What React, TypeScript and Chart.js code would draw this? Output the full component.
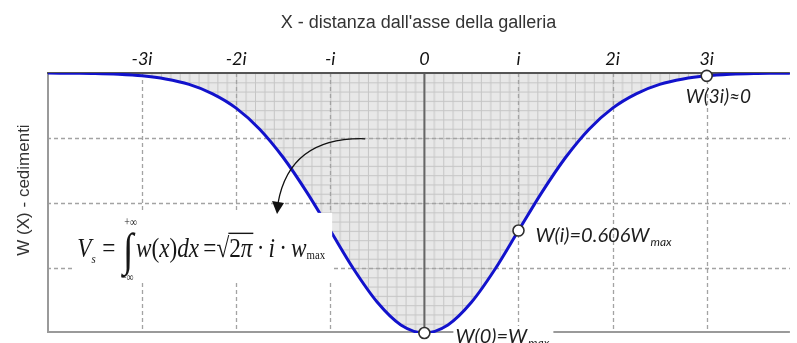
import React, { useEffect, useRef } from 'react';
import { Chart, registerables } from 'chart.js';

Chart.register(...registerables);

// Settlement trough: distance from the tunnel axis (in units of i) and settlement W(x) (fraction of Wmax, downward)
const X_POS = [-4, -3.75, -3.5, -3.25, -3, -2.75, -2.5, -2.25, -2, -1.75, -1.5, -1.25, -1, -0.75, -0.5, -0.25, 0,
  0.25, 0.5, 0.75, 1, 1.25, 1.5, 1.75, 2, 2.25, 2.5, 2.75, 3, 3.25, 3.5, 3.75, 4];
const W_VAL = [0, -0.001, -0.002, -0.005, -0.011, -0.023, -0.044, -0.08, -0.135, -0.216, -0.325, -0.458, -0.606,
  -0.755, -0.882, -0.969, -1, -0.969, -0.882, -0.755, -0.606, -0.458, -0.325, -0.216, -0.135, -0.08, -0.044,
  -0.023, -0.011, -0.005, -0.002, -0.001, 0];

// Marked points: W(0)=Wmax, W(i)=0.606Wmax, W(3i)≈0
const MARK_X = [0, 1, 3];
const MARK_W = [-1, -0.606, -0.011];

// Shaded settlement volume between -3i and 3i
const SHADE_FROM = -3;
const SHADE_TO = 3;

const X_TICKS = [-3, -2, -1, 0, 1, 2, 3];
const X_LABELS = ['-3i', '-2i', '-i', '0', 'i', '2i', '3i'];
const X_GRID = [-3, -2, -1, 1, 2, 3];
const Y_GRID = [-0.25, -0.5, -0.75];

const X_TITLE = "X - distanza dall'asse della galleria";
const Y_TITLE = 'W (X) - cedimenti';

const SANS = '"Liberation Sans", Arial, sans-serif';
const LABEL = 'Lato, "Open Sans", sans-serif';
const SERIF = '"Liberation Serif", "DejaVu Serif", serif';

function makeTile(): HTMLCanvasElement {
  const c = document.createElement('canvas');
  c.width = 95;
  c.height = 65;
  const g = c.getContext('2d')!;
  g.fillStyle = '#e8e8e8';
  g.fillRect(0, 0, 95, 65);
  g.strokeStyle = '#c6c6c6';
  g.lineWidth = 1;
  for (let k = 0; k < 10; k++) {
    const px = k * 9.5 + 0.5;
    g.beginPath();
    g.moveTo(px, 0);
    g.lineTo(px, 65);
    g.stroke();
  }
  for (let k = 0; k < 7; k++) {
    const py = (k * 65) / 7 + 0.5;
    g.beginPath();
    g.moveTo(0, py);
    g.lineTo(95, py);
    g.stroke();
  }
  return c;
}

// Label with a subscript, e.g. W(i)=0.606W_max
function subLabel(ctx: CanvasRenderingContext2D, main: string, sub: string, x: number, y: number, size: number) {
  ctx.font = `italic ${size}px ${LABEL}`;
  ctx.fillText(main, x, y);
  const w = ctx.measureText(main).width;
  if (sub) {
    ctx.font = `italic ${Math.round(size * 0.62)}px ${LABEL}`;
    ctx.fillText(sub, x + w + 1, y + 4);
    return w + 1 + ctx.measureText(sub).width;
  }
  return w;
}

// Vs = ∫ w(x)dx = √(2π) · i · wmax, laid out then squeezed to the given width
function drawFormula(ctx: CanvasRenderingContext2D, left: number, right: number, base: number) {
  const run = (draw: boolean) => {
    let cx = 0;
    const put = (t: string, font: string, dy = 0) => {
      ctx.font = font;
      if (draw) ctx.fillText(t, cx, dy);
      const w = ctx.measureText(t).width;
      cx += w;
      return w;
    };
    const it = `italic 28px ${SERIF}`;
    const up = `28px ${SERIF}`;
    put('V', it);
    put('s', `italic 13px ${SERIF}`, 6);
    cx += 8;
    put('=', up);
    cx += 9;
    const ix = cx;
    const iw = put('\u222B', `46px ${SERIF}`, 8);
    ctx.font = `12px ${SERIF}`;
    if (draw) {
      ctx.textAlign = 'center';
      ctx.fillText('+\u221E', ix + iw / 2 + 3, -31);
      ctx.fillText('\u2212\u221E', ix + iw / 2 - 1, 24);
      ctx.textAlign = 'left';
    }
    cx += 3;
    put('w', it);
    put('(', up);
    put('x', it);
    put(')', up);
    put('d', it);
    put('x', it);
    cx += 5;
    put('=', up);
    put('\u221A', up);
    const ox = cx;
    put('2', up);
    put('\u03C0', it);
    if (draw) {
      ctx.lineWidth = 1.4;
      ctx.beginPath();
      ctx.moveTo(ox - 1, -24);
      ctx.lineTo(cx + 1, -24);
      ctx.stroke();
    }
    cx += 5;
    put('\u00B7', up);
    cx += 5;
    put('i', it);
    cx += 5;
    put('\u00B7', up);
    cx += 5;
    put('w', it);
    put('max', `13px ${SERIF}`, 2);
    return cx;
  };
  ctx.save();
  ctx.textAlign = 'left';
  ctx.textBaseline = 'alphabetic';
  const natural = run(false);
  ctx.translate(left, base);
  ctx.scale((right - left) / natural, 1);
  run(true);
  ctx.restore();
}

export default function App() {
  const ref = useRef<HTMLCanvasElement | null>(null);

  useEffect(() => {
    document.body.style.margin = '0';
    const canvas = ref.current!;
    const ctx0 = canvas.getContext('2d')!;
    const pattern = ctx0.createPattern(makeTile(), 'repeat')!;

    const shadeX: number[] = [];
    const shadeW: number[] = [];
    X_POS.forEach((xv, k) => {
      if (xv >= SHADE_FROM && xv <= SHADE_TO) {
        shadeX.push(xv);
        shadeW.push(W_VAL[k]);
      }
    });

    const overlay = {
      id: 'troughOverlay',
      beforeDraw(chart: any) {
        const { x, y } = chart.scales;
        const x0 = x.getPixelForValue(0);
        const y0 = y.getPixelForValue(0);
        const ux = x.getPixelForValue(1) - x0;
        const uy = y.getPixelForValue(-0.25) - y0;
        pattern.setTransform(new DOMMatrix().translate(x0, y0).scale(ux / 95, uy / 65));
      },
      beforeDatasetsDraw(chart: any) {
        const { ctx, chartArea: a, scales } = chart;
        const { x, y } = scales;
        ctx.save();
        ctx.strokeStyle = '#a3a3a3';
        ctx.lineWidth = 1.3;
        ctx.setLineDash([4, 3]);
        X_GRID.forEach((v) => {
          const px = Math.round(x.getPixelForValue(v)) + 0.5;
          ctx.beginPath();
          ctx.moveTo(px, a.top);
          ctx.lineTo(px, a.bottom);
          ctx.stroke();
        });
        Y_GRID.forEach((v) => {
          const py = Math.round(y.getPixelForValue(v)) + 0.5;
          ctx.beginPath();
          ctx.moveTo(a.left, py);
          ctx.lineTo(a.right, py);
          ctx.stroke();
        });
        ctx.setLineDash([]);
        // plot frame: left and bottom
        ctx.strokeStyle = '#9a9a9a';
        ctx.lineWidth = 2;
        ctx.beginPath();
        ctx.moveTo(a.left + 1, a.top);
        ctx.lineTo(a.left + 1, a.bottom - 1);
        ctx.lineTo(a.right, a.bottom - 1);
        ctx.stroke();
        // tunnel axis
        ctx.strokeStyle = '#666';
        const zx = x.getPixelForValue(0);
        ctx.beginPath();
        ctx.moveTo(zx, a.top);
        ctx.lineTo(zx, a.bottom);
        ctx.stroke();
        // ground surface
        ctx.strokeStyle = '#555';
        ctx.beginPath();
        ctx.moveTo(a.left, a.top);
        ctx.lineTo(a.right, a.top);
        ctx.stroke();
        ctx.restore();
      },
      afterDatasetsDraw(chart: any) {
        const { ctx, scales } = chart;
        const { x, y } = scales;
        ctx.save();

        // formula panel
        const bl = x.getPixelForValue(-3.72);
        const br = x.getPixelForValue(-0.98);
        const bt = y.getPixelForValue(-0.538);
        const bb = y.getPixelForValue(-0.805);
        ctx.fillStyle = '#fff';
        ctx.fillRect(bl, bt, br - bl, bb - bt);
        ctx.fillStyle = '#161616';
        ctx.strokeStyle = '#161616';
        drawFormula(ctx, bl + 3, br - 7, y.getPixelForValue(-0.709));

        // curved arrow pointing to the formula
        const sx = x.getPixelForValue(-0.63);
        const sy = y.getPixelForValue(-0.253);
        const ex = x.getPixelForValue(-1.555);
        const ey = y.getPixelForValue(-0.5);
        ctx.strokeStyle = '#111';
        ctx.lineWidth = 1.3;
        ctx.beginPath();
        ctx.moveTo(sx, sy);
        ctx.quadraticCurveTo(ex + 12, sy - 2, ex, ey);
        ctx.stroke();
        ctx.fillStyle = '#111';
        ctx.beginPath();
        ctx.moveTo(ex - 6, ey - 2);
        ctx.lineTo(ex + 6, ey);
        ctx.lineTo(ex - 1, ey + 11);
        ctx.closePath();
        ctx.fill();

        // point labels
        ctx.textAlign = 'left';
        ctx.textBaseline = 'alphabetic';
        ctx.fillStyle = '#1e1e1e';
        subLabel(ctx, 'W(3i)\u22480', '', x.getPixelForValue(MARK_X[2]) - 21, y.getPixelForValue(MARK_W[2]) + 27, 19);
        subLabel(ctx, 'W(i)=0.606W', 'max', x.getPixelForValue(MARK_X[1]) + 17, y.getPixelForValue(MARK_W[1]) + 11, 20);
        const lx = x.getPixelForValue(MARK_X[0]) + 31;
        const ly = y.getPixelForValue(MARK_W[0]) + 10;
        ctx.fillStyle = '#fff';
        ctx.fillRect(lx - 2, ly - 17, 100, 20);
        ctx.fillStyle = '#1e1e1e';
        subLabel(ctx, 'W(0)=W', 'max', lx, ly, 20);

        // vertical axis title
        ctx.translate(24, 190);
        ctx.rotate(-Math.PI / 2);
        ctx.textAlign = 'center';
        ctx.textBaseline = 'middle';
        ctx.fillStyle = '#333';
        ctx.font = `17px ${SANS}`;
        ctx.fillText(Y_TITLE, 0, 0);
        ctx.restore();
      },
    };

    const chart = new Chart(canvas, {
      type: 'line',
      data: {
        datasets: [
          {
            label: 'marks',
            data: MARK_X.map((v, k) => ({ x: v, y: MARK_W[k] })),
            showLine: false,
            pointRadius: 5.5,
            pointBackgroundColor: '#fff',
            pointBorderColor: '#2e2e2e',
            pointBorderWidth: 1.6,
            clip: false,
          },
          {
            label: 'W(x)',
            data: X_POS.map((v, k) => ({ x: v, y: W_VAL[k] })),
            borderColor: '#1212cc',
            borderWidth: 3,
            pointRadius: 0,
            cubicInterpolationMode: 'monotone',
            fill: false,
          },
          {
            label: 'Vs',
            data: shadeX.map((v, k) => ({ x: v, y: shadeW[k] })),
            borderColor: 'rgba(0,0,0,0)',
            borderWidth: 0,
            pointRadius: 0,
            cubicInterpolationMode: 'monotone',
            backgroundColor: pattern as any,
            fill: 'origin',
          },
        ],
      },
      options: {
        animation: false,
        responsive: false,
        devicePixelRatio: 1,
        layout: { padding: { left: 0, top: 0, right: 0, bottom: 10 } },
        plugins: {
          legend: { display: false },
          tooltip: { enabled: false },
          filler: { drawTime: 'beforeDatasetsDraw' },
        },
        scales: {
          x: {
            type: 'linear',
            position: 'top',
            min: -4.01,
            max: 3.884,
            afterBuildTicks: (s: any) => {
              s.ticks = X_TICKS.map((v) => ({ value: v }));
            },
            afterFit: (s: any) => {
              s.height = 73;
            },
            grid: { display: false, drawTicks: false },
            border: { display: false },
            ticks: {
              autoSkip: false,
              maxRotation: 0,
              padding: 3,
              color: '#111',
              font: { family: LABEL, size: 18, style: 'italic' },
              callback: (v: any) => X_LABELS[X_TICKS.indexOf(Number(v))] ?? '',
            },
            title: {
              display: true,
              text: X_TITLE,
              color: '#333',
              font: { family: SANS, size: 18 },
              padding: { top: 12, bottom: 0 },
            },
          },
          y: {
            type: 'linear',
            min: -1,
            max: 0,
            afterFit: (s: any) => {
              s.width = 47;
            },
            grid: { display: false, drawTicks: false },
            border: { display: false },
            ticks: { display: false },
          },
        },
      } as any,
      plugins: [overlay],
    });

    return () => chart.destroy();
  }, []);

  return (
    <div style={{ width: 797, height: 343 }}>
      <canvas ref={ref} width={797} height={343} style={{ display: 'block' }} />
    </div>
  );
}
